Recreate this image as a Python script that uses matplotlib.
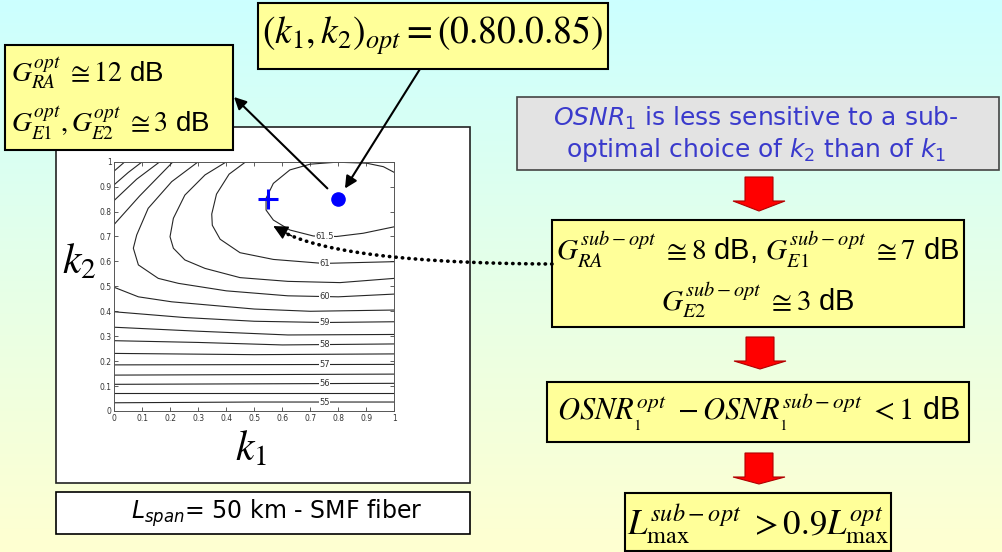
import numpy as np
import matplotlib.pyplot as plt
from matplotlib.lines import Line2D
from matplotlib.patches import Rectangle, Polygon, ConnectionPatch, FancyArrowPatch

# OSNR_1 contour lines traced over the (k1, k2) plane, one list of (k1, k2) per branch
level_55 = [(0, 0.033), (0.5, 0.036), (1, 0.036)]
level_55_5 = [(0, 0.071), (0.5, 0.071), (1, 0.071)]
level_56 = [(0, 0.107), (0.5, 0.109), (1, 0.111)]
level_56_5 = [(0, 0.144), (0.5, 0.146), (1, 0.148)]
level_57 = [(0, 0.185), (0.5, 0.186), (1, 0.187)]
level_57_5 = [(0, 0.231), (0.5, 0.226), (1, 0.229)]
level_58 = [(0, 0.282), (0.3, 0.275), (0.6, 0.265), (1, 0.269)]
level_58_top = [(0, 0.963), (0.038, 1.0)]
level_58_5 = [(0, 0.336), (0.3, 0.32), (0.62, 0.305), (1, 0.307)]
level_58_5_top = [(0, 0.908), (0.05, 0.957), (0.10, 1.0)]
level_59 = [(0, 0.398), (0.25, 0.375), (0.5, 0.36), (0.75, 0.355), (1, 0.358)]
level_59_top = [(0, 0.845), (0.08, 0.93), (0.163, 1.0)]
level_59_5 = [(0, 0.496), (0.086, 0.458), (0.205, 0.438), (0.5, 0.409), (0.7, 0.40), (1, 0.405)]
level_59_5_top = [(0, 0.749), (0.09, 0.862), (0.21, 1.0)]
level_60 = [(0.30, 1.0), (0.205, 0.92), (0.121, 0.813), (0.08, 0.706), (0.068, 0.653),
            (0.086, 0.586), (0.157, 0.532), (0.229, 0.512), (0.4, 0.482), (0.62, 0.462),
            (0.8, 0.458), (1.0, 0.469)]
level_60_5 = [(0.401, 1.0), (0.324, 0.947), (0.252, 0.866), (0.211, 0.773), (0.199, 0.699),
              (0.211, 0.653), (0.252, 0.606), (0.324, 0.572), (0.449, 0.535), (0.62, 0.52),
              (0.806, 0.515), (1.0, 0.532)]
level_61 = [(0.47, 1.0), (0.41, 0.95), (0.365, 0.87), (0.348, 0.79), (0.35, 0.745),
            (0.378, 0.689), (0.449, 0.635), (0.568, 0.608), (0.746, 0.592), (1.0, 0.599)]
level_61_5 = [(1.0, 0.957), (0.961, 0.980), (0.901, 0.994), (0.794, 0.998), (0.699, 0.990),
              (0.627, 0.967), (0.568, 0.913), (0.542, 0.853), (0.542, 0.806), (0.568, 0.766),
              (0.627, 0.726), (0.711, 0.702), (0.794, 0.700), (0.889, 0.713), (1.0, 0.739)]

contour_lines = [
    (55, level_55), (55.5, level_55_5), (56, level_56), (56.5, level_56_5),
    (57, level_57), (57.5, level_57_5), (58, level_58), (58, level_58_top),
    (58.5, level_58_5), (58.5, level_58_5_top), (59, level_59), (59, level_59_top),
    (59.5, level_59_5), (59.5, level_59_5_top), (60, level_60), (60.5, level_60_5),
    (61, level_61), (61.5, level_61_5),
]
labelled_levels = [55, 56, 57, 58, 59, 60, 61, 61.5]
label_k1 = 0.75

opt_point = (0.80, 0.85)      # (k1, k2)_opt
subopt_point = (0.55, 0.85)   # sub-optimal choice

ticks = [0, 0.1, 0.2, 0.3, 0.4, 0.5, 0.6, 0.7, 0.8, 0.9, 1]
tick_labels = ["0", "0.1", "0.2", "0.3", "0.4", "0.5", "0.6", "0.7", "0.8", "0.9", "1"]

YELLOW = "#ffff99"
BLUE_TXT = "#3a3acc"

plt.rcParams["font.family"] = ["DejaVu Sans"]

W, H = 1003, 552
fig = plt.figure(figsize=(W / 100, H / 100), dpi=100)

# slide background, pixel coordinates (y down)
bg = fig.add_axes([0, 0, 1, 1])
bg.set_xlim(0, W)
bg.set_ylim(H, 0)
bg.axis("off")
t = np.linspace(0, 1, 256)[:, None, None]
c_top = np.array([0.80, 1.0, 1.0])
c_bot = np.array([1.0, 1.0, 0.82])
bg.imshow(c_top + (c_bot - c_top) * t, extent=[0, W, H, 0], aspect="auto", zorder=0)


def box(x0, y0, x1, y1, face, edge="black", lw=1.5, z=2):
    bg.add_patch(Rectangle((x0, y0), x1 - x0, y1 - y0, facecolor=face,
                           edgecolor=edge, linewidth=lw, zorder=z))


def block_arrow(cx, y_top, y_neck, y_tip, shaft=14, head=26):
    pts = [(cx - shaft, y_top), (cx + shaft, y_top), (cx + shaft, y_neck),
           (cx + head, y_neck), (cx, y_tip), (cx - head, y_neck), (cx - shaft, y_neck)]
    bg.add_patch(Polygon(pts, closed=True, facecolor="#ff0000",
                         edgecolor="#b00000", linewidth=0.8, zorder=3))


# left panel with the contour plot
box(56, 127, 470, 483, "white", edge="#222222", lw=1.2, z=1)
box(56, 492, 470, 534, "white", edge="black", lw=1.2, z=1)
bg.text(277, 513, r"$L_{span}$= 50 km - SMF fiber", fontsize=17, ha="center",
        va="center", math_fontfamily="dejavusans", zorder=5)

# yellow formula boxes
box(5, 45, 233, 150, YELLOW, z=4)
bg.text(11, 74, r"$G_{RA}^{opt}\ \cong 12$ dB", fontsize=20, ha="left", va="center",
        family="Liberation Sans", math_fontfamily="stix", zorder=5)
bg.text(11, 124, r"$G_{E1}^{opt},G_{E2}^{opt}\ \cong 3$ dB", fontsize=20, ha="left",
        va="center", family="Liberation Sans", math_fontfamily="stix", zorder=5)

box(258, 3, 608, 69, YELLOW, z=4)
bg.text(433, 35, r"$\left(k_1,k_2\right)_{opt}=\left(0.80.0.85\right)$", fontsize=27,
        ha="center", va="center", math_fontfamily="stix", zorder=5)

box(517, 97, 999, 170, "#e3e3e3", edge="#444444", lw=1.2)
bg.text(756, 118, r"$OSNR_1$ is less sensitive to a sub-", fontsize=18, color=BLUE_TXT,
        ha="center", va="center", math_fontfamily="dejavusans", zorder=5)
bg.text(756, 150, r"optimal choice of $k_2$ than of $k_1$", fontsize=18, color=BLUE_TXT,
        ha="center", va="center", math_fontfamily="dejavusans", zorder=5)

box(552, 220, 964, 327, YELLOW)
bg.text(758, 250, r"$G_{RA}^{sub-opt}\ \cong 8$ dB, $G_{E1}^{sub-opt}\ \cong 7$ dB",
        fontsize=21, ha="center", va="center", family="Liberation Sans",
        math_fontfamily="stix", zorder=5)
bg.text(758, 300, r"$G_{E2}^{sub-opt}\ \cong 3$ dB", fontsize=21, ha="center",
        va="center", family="Liberation Sans", math_fontfamily="stix", zorder=5)

box(547, 382, 969, 442, YELLOW)
bg.text(758, 412, r"$OSNR_{_1}^{opt}\ -OSNR_{_1}^{sub-opt}\ <1$ dB", fontsize=22,
        ha="center", va="center", family="Liberation Sans", math_fontfamily="stix", zorder=5)

box(625, 493, 891, 551, YELLOW)
bg.text(758, 524, r"$L_{\max}^{sub-opt}\ >0.9L_{\max}^{opt}$", fontsize=25,
        ha="center", va="center", math_fontfamily="stix", zorder=5)

block_arrow(759, 177, 201, 211)
block_arrow(760, 337, 361, 369)
block_arrow(759, 453, 477, 484)

# contour axes
ax = fig.add_axes([114.3 / W, 1 - 411 / H, 280 / W, 249.3 / H])
ax.set_zorder(3)
ax.set_facecolor("white")
for lev, pts in contour_lines:
    k1, k2 = zip(*pts)
    ax.plot(k1, k2, color="#262626", lw=0.8, solid_joinstyle="round")

for lev, pts in contour_lines:
    if lev not in labelled_levels:
        continue
    pos = None
    for (xa, ya), (xb, yb) in zip(pts[:-1], pts[1:]):
        if min(xa, xb) <= label_k1 <= max(xa, xb) and xa != xb:
            pos = ya + (yb - ya) * (label_k1 - xa) / (xb - xa)
    if pos is None:
        continue
    ax.text(label_k1, pos, f"{lev:g}", fontsize=6, color="#333333", ha="center",
            va="center", bbox=dict(facecolor="white", edgecolor="none", pad=0.3), zorder=4)

ax.plot(*opt_point, "o", color="#0000ff", markersize=9.5, zorder=6)
ax.plot(*subopt_point, "+", color="#0000ff", markersize=15, mew=2.2, zorder=6)

ax.set_xlim(0, 1)
ax.set_ylim(0, 1)
ax.set_xticks(ticks)
ax.set_xticklabels(tick_labels)
ax.set_yticks(ticks)
ax.set_yticklabels(tick_labels)
ax.tick_params(direction="in", top=True, right=True, length=3, width=0.6,
               labelsize=5.5, labelcolor="#333333", pad=2, color="#444444")
for sp in ax.spines.values():
    sp.set_color("#555555")
    sp.set_linewidth(0.7)
ax.set_xlabel(r"$k_1$", fontsize=30, math_fontfamily="stix", va="center")
ax.set_ylabel(r"$k_2$", fontsize=30, math_fontfamily="stix", rotation=0, va="center")
ax.xaxis.set_label_coords(0.488, -0.15)
ax.yaxis.set_label_coords(-0.125, 0.60)

# arrows from the yellow boxes to the optimum and the sub-optimal point
arr1 = ConnectionPatch(xyA=(420, 69), coordsA=bg.transData, xyB=opt_point,
                       coordsB=ax.transData, arrowstyle="-|>", mutation_scale=18,
                       lw=1.5, color="black", shrinkB=9, zorder=8)
fig.add_artist(arr1)
arr2 = ConnectionPatch(xyA=opt_point, coordsA=ax.transData, xyB=(234, 97),
                       coordsB=bg.transData, arrowstyle="-|>", mutation_scale=18,
                       lw=1.5, color="black", shrinkA=11, shrinkB=0, zorder=8)
fig.add_artist(arr2)

# dotted curved arrow from the sub-optimal gains box to the '+' point
sx, sy = bg.transData.inverted().transform(ax.transData.transform(subopt_point))
p0 = np.array([552.0, 264.0])
pc = np.array([325.0, 263.0])
p2 = np.array([sx + 5, sy + 27])
s = np.linspace(0, 1, 120)[:, None]
curve = (1 - s) ** 2 * p0 + 2 * (1 - s) * s * pc + s ** 2 * p2
cut = 108
fig.add_artist(Line2D(curve[:cut, 0], curve[:cut, 1], transform=bg.transData,
                      color="black", lw=2.6, linestyle=(0, (0.1, 1.7)),
                      dash_capstyle="round", zorder=8))
fig.add_artist(FancyArrowPatch(posA=tuple(curve[cut - 6]), posB=tuple(p2),
                               transform=bg.transData, arrowstyle="-|>",
                               mutation_scale=22, lw=1.0, color="black",
                               shrinkA=0, shrinkB=0, zorder=8))

fig.savefig("out.png", dpi=100)
